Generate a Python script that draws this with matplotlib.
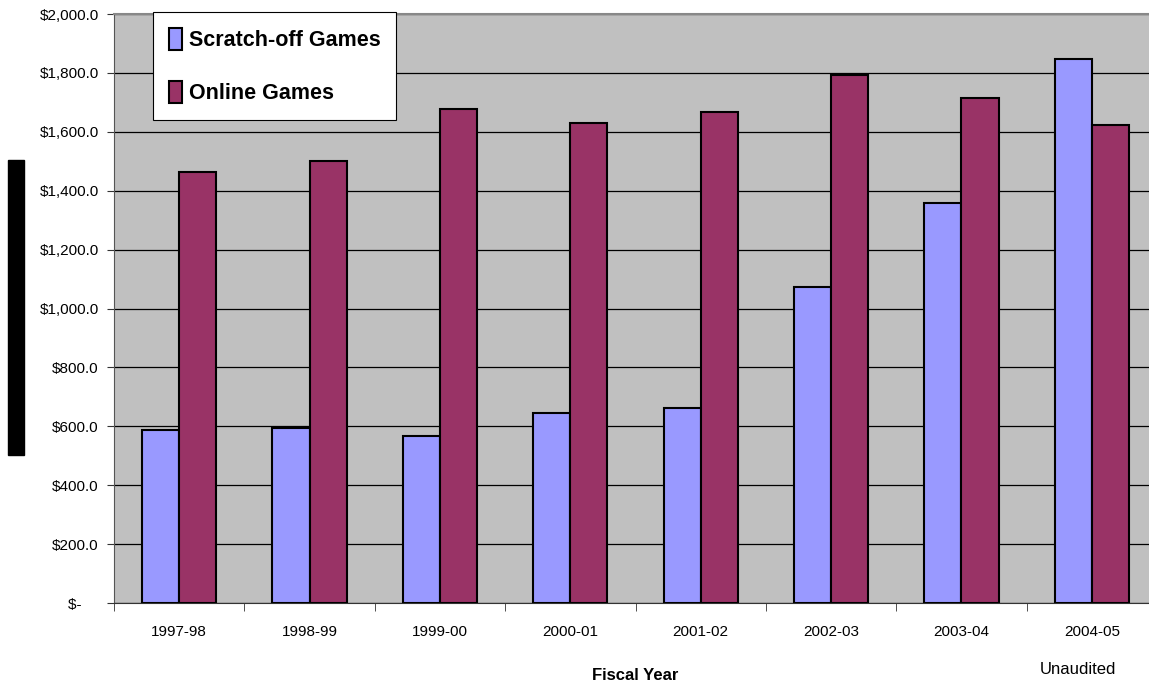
import matplotlib
matplotlib.use('Agg')
import matplotlib.pyplot as plt
import numpy as np
from matplotlib.patches import Rectangle
from matplotlib.ticker import FixedLocator, FuncFormatter

# lottery sales by fiscal year ($ millions)
years = ['1997-98', '1998-99', '1999-00', '2000-01', '2001-02', '2002-03', '2003-04', '2004-05']
scratch = [587, 594, 567, 645, 662, 1073, 1358, 1847]
online = [1463, 1501, 1677, 1630, 1667, 1793, 1715, 1623]

plt.rcParams['font.family'] = ['Liberation Sans', 'DejaVu Sans']

fig = plt.figure(figsize=(11.49, 6.85), dpi=100)
ax = fig.add_axes([114/1149, 1-603/685, 1043/1149, 589/685])
ax.set_facecolor('#c0c0c0')

x = np.arange(len(years))
w = 0.285
ax.bar(x - w/2, scratch, w, color='#9999ff', edgecolor='black', linewidth=1.5,
       label='Scratch-off Games', zorder=3)
ax.bar(x + w/2, online, w, color='#993366', edgecolor='black', linewidth=1.5,
       label='Online Games', zorder=3)

ax.set_xlim(-0.5, len(years) - 0.5)
ax.set_ylim(0, 2000)
ax.set_yticks(np.arange(0, 2001, 200))
ax.yaxis.set_major_formatter(FuncFormatter(lambda v, p: '$-    ' if v == 0 else '${:,.1f}'.format(v)))
ax.yaxis.grid(True, color='black', linewidth=0.9, zorder=1)

ax.set_xticks(x)
ax.set_xticklabels(years)
ax.xaxis.set_minor_locator(FixedLocator(np.arange(-0.5, len(years), 1)))
ax.tick_params(axis='x', which='major', length=0, pad=16, labelsize=11)
ax.tick_params(axis='x', which='minor', length=6, color='#333333')
ax.tick_params(axis='y', length=5, color='#333333', labelsize=11, pad=6)

ax.spines['right'].set_visible(False)
ax.spines['top'].set_color('#888888')
ax.spines['top'].set_linewidth(1.5)
ax.spines['left'].set_color('#555555')
ax.spines['bottom'].set_color('#333333')

leg = ax.legend(loc='upper left', fancybox=False, framealpha=1,
                edgecolor='black', borderaxespad=0, prop={'size': 15.5, 'weight': 'bold'},
                handlelength=0.6, handleheight=1.2, handletextpad=0.3,
                labelspacing=1.35, borderpad=0.75)
leg.get_frame().set_linewidth(0.8)
leg.set_bbox_to_anchor((153/1149, 1 - 12/685), transform=fig.transFigure)

fig.text(635/1149, 1 - 675/685, 'Fiscal Year', ha='center', va='center',
         fontsize=12, fontweight='bold')
fig.text(1078/1149, 1 - 670/685, 'Unaudited', ha='center', va='center', fontsize=12)

# black block on the left side
fig.patches.append(Rectangle((8/1149, 1 - 455/685), 16/1149, 295/685,
                             transform=fig.transFigure, color='black'))

fig.savefig('out.png', dpi=100)
